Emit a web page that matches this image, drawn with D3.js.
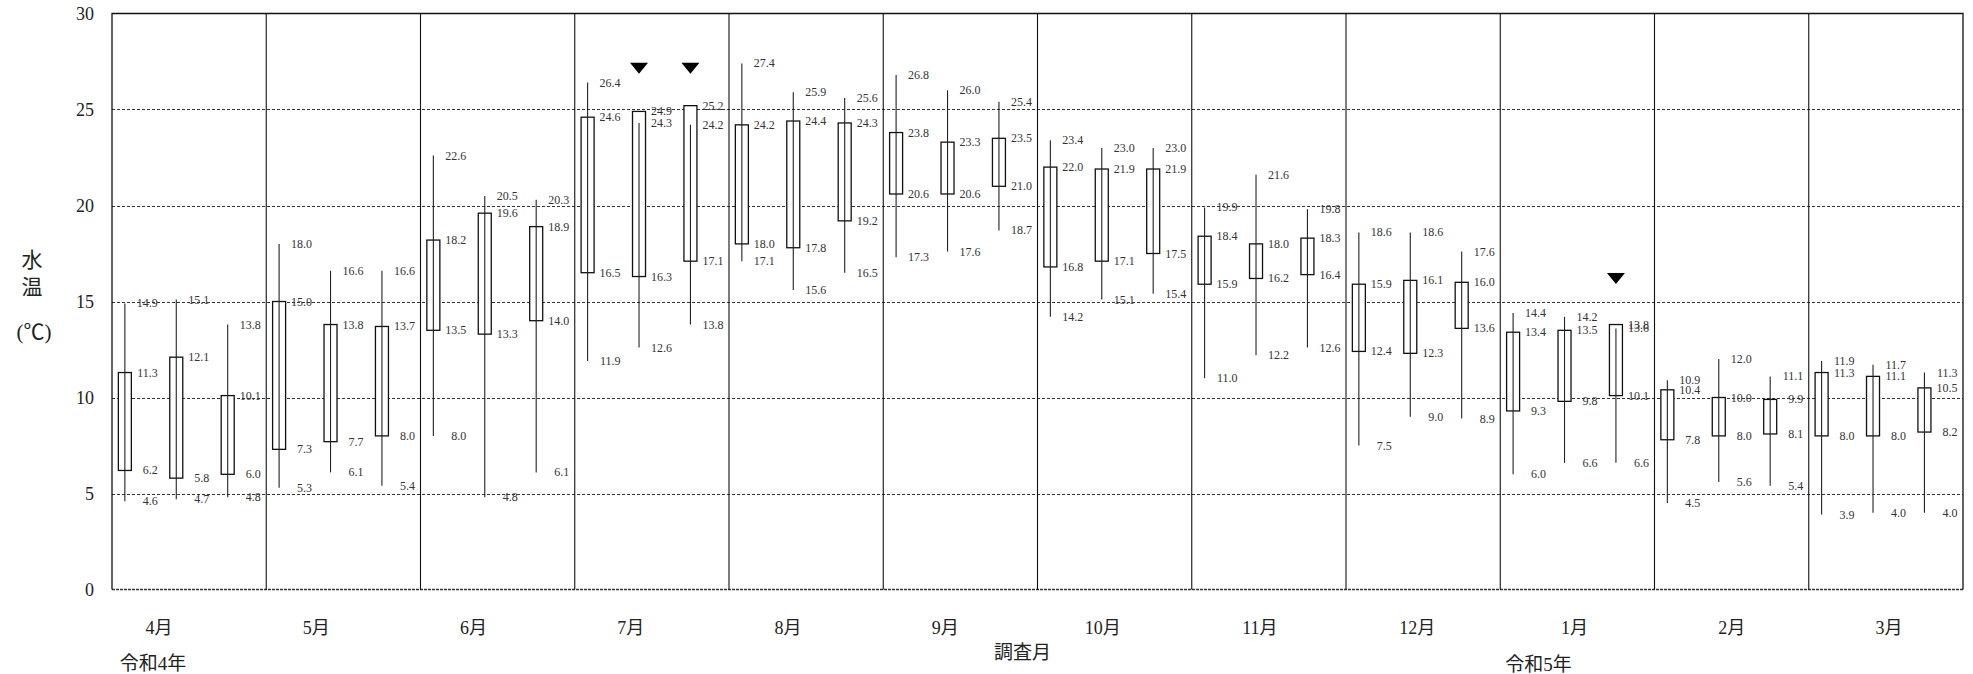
<!DOCTYPE html>
<html>
<head>
<meta charset="utf-8">
<script src="https://cdn.jsdelivr.net/npm/d3@7/dist/d3.min.js"></script>
<style>
  html, body { margin: 0; padding: 0; background: #fff; }
  svg { display: block; }
</style>
</head>
<body>
<svg id="chart" width="1973" height="674"></svg>
<script>
// 調査月 (survey months), three survey points per month
const months = ["4月", "5月", "6月", "7月", "8月", "9月", "10月", "11月", "12月", "1月", "2月", "3月"];
const points = [0, 1, 2];

// 水温 (℃) per month × survey point
const maxVals = [
  [14.9, 15.1, 13.8], [18.0, 16.6, 16.6], [22.6, 20.5, 20.3], [26.4, 24.3, 24.2],
  [27.4, 25.9, 25.6], [26.8, 26.0, 25.4], [23.4, 23.0, 23.0], [19.9, 21.6, 19.8],
  [18.6, 18.6, 17.6], [14.4, 14.2, 13.6], [10.9, 12.0, 11.1], [11.9, 11.7, 11.3]
];
const boxTop = [
  [11.3, 12.1, 10.1], [15.0, 13.8, 13.7], [18.2, 19.6, 18.9], [24.6, 24.9, 25.2],
  [24.2, 24.4, 24.3], [23.8, 23.3, 23.5], [22.0, 21.9, 21.9], [18.4, 18.0, 18.3],
  [15.9, 16.1, 16.0], [13.4, 13.5, 13.8], [10.4, 10.0, 9.9], [11.3, 11.1, 10.5]
];
const boxBottom = [
  [6.2, 5.8, 6.0], [7.3, 7.7, 8.0], [13.5, 13.3, 14.0], [16.5, 16.3, 17.1],
  [18.0, 17.8, 19.2], [20.6, 20.6, 21.0], [16.8, 17.1, 17.5], [15.9, 16.2, 16.4],
  [12.4, 12.3, 13.6], [9.3, 9.8, 10.1], [7.8, 8.0, 8.1], [8.0, 8.0, 8.2]
];
const minVals = [
  [4.6, 4.7, 4.8], [5.3, 6.1, 5.4], [8.0, 4.8, 6.1], [11.9, 12.6, 13.8],
  [17.1, 15.6, 16.5], [17.3, 17.6, 18.7], [14.2, 15.1, 15.4], [11.0, 12.2, 12.6],
  [7.5, 9.0, 8.9], [6.0, 6.6, 6.6], [4.5, 5.6, 5.4], [3.9, 4.0, 4.0]
];

// ▼ markers: month, survey point, height (℃)
const markerMonths = ["7月", "7月", "1月"];
const markerPoints = [1, 2, 2];
const markerVals = [27.15, 27.15, 16.2];

const yTicks = [0, 5, 10, 15, 20, 25, 30];
const gridTicks = [5, 10, 15, 20, 25];

// flatten to one record per candle
const candles = [];
months.forEach((m, i) => points.forEach(p => candles.push({
  month: m, point: p,
  max: maxVals[i][p], hi: boxTop[i][p], lo: boxBottom[i][p], min: minVals[i][p]
})));

const svg = d3.select("#chart");
const plotL = 112, plotR = 1963, plotT = 13.5, plotB = 589.5;

const x = d3.scaleBand().domain(months).range([plotL, plotR]).padding(0);
const xPoint = d3.scaleBand().domain(points).range([0, x.bandwidth()]);
const y = d3.scaleLinear().domain([0, 30]).range([plotB, plotT]);
const cx = (m, p) => x(m) + xPoint(p) + xPoint.bandwidth() / 4;

const serif = "'Liberation Serif', 'DejaVu Serif', serif";
const jp = "'Liberation Serif', 'Noto Sans CJK JP', sans-serif";

// dashed gridlines
svg.append("g").selectAll("line").data(gridTicks).join("line")
  .attr("x1", plotL).attr("x2", plotR)
  .attr("y1", d => Math.round(y(d)) + 0.5).attr("y2", d => Math.round(y(d)) + 0.5)
  .attr("stroke", "#333").attr("stroke-width", 1).attr("stroke-dasharray", "3,2");

// baseline at 0
svg.append("line")
  .attr("x1", plotL).attr("x2", plotR).attr("y1", plotB).attr("y2", plotB)
  .attr("stroke", "#333").attr("stroke-width", 1.6).attr("stroke-dasharray", "3,1");

// month separators
svg.append("g").selectAll("line").data(months.slice(1)).join("line")
  .attr("x1", d => x(d)).attr("x2", d => x(d))
  .attr("y1", plotT).attr("y2", plotB)
  .attr("stroke", "#111").attr("stroke-width", 1.1);

// frame: left, top, right
svg.append("path")
  .attr("d", `M${plotL},${plotB}V${plotT}H${plotR}V${plotB}`)
  .attr("fill", "none").attr("stroke", "#111").attr("stroke-width", 1.3);

// y tick labels
svg.append("g").selectAll("text").data(yTicks).join("text")
  .attr("x", 94).attr("y", d => y(d))
  .attr("text-anchor", "end").attr("dominant-baseline", "central")
  .attr("font-family", serif).attr("font-size", 18).attr("fill", "#222")
  .text(d => d);

// y title
const yTitle = svg.append("g").attr("font-family", jp).attr("font-size", 21).attr("fill", "#222")
  .attr("text-anchor", "middle").attr("dominant-baseline", "central");
yTitle.append("text").attr("x", 32).attr("y", 259.5).text("水");
yTitle.append("text").attr("x", 32).attr("y", 287).text("温");
yTitle.append("text").attr("x", 34).attr("y", 332).text("(℃)");

// candles: box, then whisker on top
const g = svg.append("g");
const boxW = 13;
g.selectAll("rect").data(candles).join("rect")
  .attr("x", d => cx(d.month, d.point) - boxW / 2)
  .attr("y", d => y(d.hi))
  .attr("width", boxW)
  .attr("height", d => y(d.lo) - y(d.hi))
  .attr("fill", "#fff").attr("stroke", "#111").attr("stroke-width", 1.3);
g.selectAll("line.whisker").data(candles).join("line").attr("class", "whisker")
  .attr("x1", d => cx(d.month, d.point)).attr("x2", d => cx(d.month, d.point))
  .attr("y1", d => y(d.max)).attr("y2", d => y(d.min))
  .attr("stroke", "#222").attr("stroke-width", 1.1);

// value labels
const labelKeys = ["max", "hi", "lo", "min"];
const labels = candles.flatMap(d => labelKeys.map(k => ({ month: d.month, point: d.point, v: d[k] })));
svg.append("g").selectAll("text").data(labels).join("text")
  .attr("x", d => cx(d.month, d.point) + 33)
  .attr("y", d => y(d.v))
  .attr("text-anchor", "end").attr("dominant-baseline", "central")
  .attr("font-family", serif).attr("font-size", 12).attr("fill", "#333")
  .text(d => d3.format(".1f")(d.v));

// ▼ markers
svg.append("g").selectAll("path").data(markerVals).join("path")
  .attr("d", (d, i) => {
    const px = cx(markerMonths[i], markerPoints[i]), py = y(d);
    return `M${px - 9},${py - 5.5}H${px + 9}L${px},${py + 5.5}Z`;
  })
  .attr("fill", "#000");

// month labels
const xLabel = d3.scalePoint().domain(months).range([159, 1889]);
svg.append("g").selectAll("text").data(months).join("text")
  .attr("x", d => xLabel(d)).attr("y", 628)
  .attr("text-anchor", "middle").attr("dominant-baseline", "central")
  .attr("font-family", jp).attr("font-size", 18).attr("fill", "#222")
  .text(d => d);

// year and axis captions
const cap = svg.append("g").attr("font-family", jp).attr("font-size", 19).attr("fill", "#222")
  .attr("text-anchor", "middle").attr("dominant-baseline", "central");
cap.append("text").attr("x", xLabel("4月") - 6).attr("y", 663).text("令和4年");
cap.append("text").attr("x", (plotL + plotR) / 2 - 15).attr("y", 652).text("調査月");
cap.append("text").attr("x", xLabel("1月") - 36).attr("y", 664).text("令和5年");
</script>
</body>
</html>
